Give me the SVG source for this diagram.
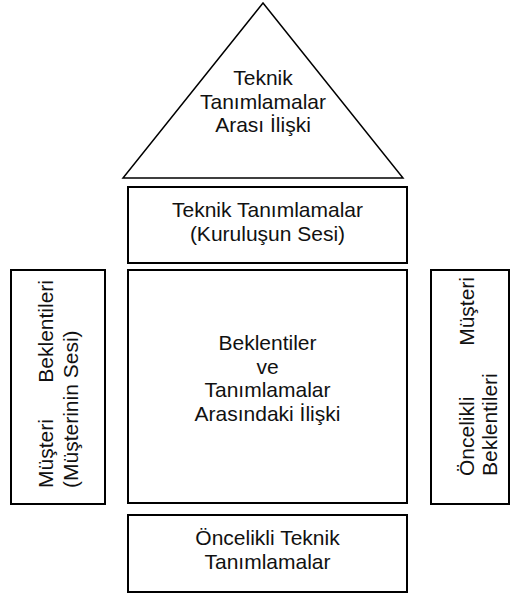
<svg xmlns="http://www.w3.org/2000/svg" width="513" height="597" viewBox="0 0 513 597">
<style>
.s{fill:#fff;stroke:#000;stroke-width:2}
.t{fill:none;stroke:#000;stroke-width:1.5}
text{font-family:"Liberation Sans",Arial,sans-serif;font-size:21px;fill:#111}
.c{text-anchor:middle}
.e{text-anchor:end}
</style>
<rect width="513" height="597" fill="#fff"/>
<g id="connectors"></g>
<g id="triangle">
<polygon class="t" points="263,3 123,178 403,178"/>
<text class="c" x="263" y="85">Teknik</text>
<text class="c" x="263" y="108.5">Tanımlamalar</text>
<text class="c" x="263" y="132">Arası İlişki</text>
</g>
<g id="technical">
<rect class="s" x="128" y="187" width="279" height="76"/>
<text class="c" x="267.5" y="217">Teknik Tanımlamalar</text>
<text class="c" x="267.5" y="240.5">(Kuruluşun Sesi)</text>
</g>
<g id="matrix">
<rect class="s" x="128" y="270" width="279" height="233"/>
<text class="c" x="267.5" y="350">Beklentiler</text>
<text class="c" x="267.5" y="373.5">ve</text>
<text class="c" x="267.5" y="397">Tanımlamalar</text>
<text class="c" x="267.5" y="420.5">Arasındaki İlişki</text>
</g>
<g id="priority">
<rect class="s" x="128" y="515" width="279" height="77"/>
<text class="c" x="267.5" y="545">Öncelikli Teknik</text>
<text class="c" x="267.5" y="568.5">Tanımlamalar</text>
</g>
<g id="customer">
<rect class="s" x="11" y="270" width="94" height="234"/>
<text transform="translate(53,488) rotate(-90)">Müşteri</text>
<text class="e" transform="translate(53,280) rotate(-90)">Beklentileri</text>
<text transform="translate(78,488) rotate(-90)">(Müşterinin Sesi)</text>
</g>
<g id="customer-priority">
<rect class="s" x="431" y="270" width="78" height="234"/>
<text transform="translate(474,476) rotate(-90)">Öncelikli</text>
<text class="e" transform="translate(474,277) rotate(-90)">Müşteri</text>
<text transform="translate(497,476) rotate(-90)">Beklentileri</text>
</g>
</svg>
